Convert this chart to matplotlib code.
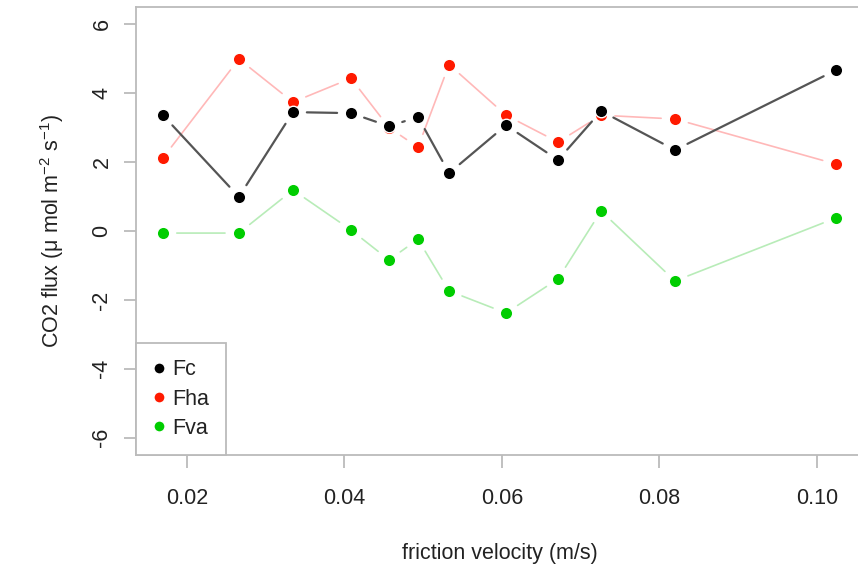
import numpy as np
import matplotlib
matplotlib.use('Agg')
import matplotlib.pyplot as plt
from matplotlib.lines import Line2D

plt.rcParams['font.family'] = ['Liberation Sans', 'DejaVu Sans']
plt.rcParams['mathtext.fontset'] = 'custom'
plt.rcParams['mathtext.rm'] = 'Liberation Sans'
plt.rcParams['mathtext.it'] = 'Liberation Sans:italic'

# dane
ustar = [0.01695, 0.0266, 0.03347, 0.04084, 0.04567, 0.04935,
         0.0533, 0.06053, 0.06714, 0.07261, 0.0820, 0.10246]
Fc = [3.36, 0.99, 3.45, 3.42, 3.04, 3.31, 1.68, 3.07, 2.06, 3.48, 2.35, 4.67]
Fha = [2.12, 4.99, 3.74, 4.43, 3.00, 2.43, 4.83, 3.36, 2.58, 3.36, 3.25, 1.94]
Fva = [-0.06, -0.06, 1.19, 0.03, -0.84, -0.24, -1.74, -2.38, -1.39, 0.58, -1.45, 0.38]

yticks = [-6, -4, -2, 0, 2, 4, 6]
xticks = [0.02, 0.04, 0.06, 0.08, 0.10]
xticklabels = ['0.02', '0.04', '0.06', '0.08', '0.10']

FS = 15.5
AXCOL = '#bbbbbb'

fig = plt.figure(figsize=(8.58, 5.66), dpi=100)
ax = fig.add_axes([136 / 858, 111 / 566, 727 / 858, 448 / 566])

rng = max(ustar) - min(ustar)
ax.set_xlim(min(ustar) - 0.04 * rng, max(ustar) + 0.04 * rng)
ax.set_ylim(-6.5, 6.5)


def draw_series(y, point_col, line_col, lw, z):
    # linie typu "b" z R - przerwy wokol punktow
    for i in range(len(ustar) - 1):
        ax.annotate('', xy=(ustar[i + 1], y[i + 1]), xytext=(ustar[i], y[i]),
                    arrowprops=dict(arrowstyle='-', color=line_col, lw=lw,
                                    shrinkA=10, shrinkB=10),
                    zorder=z)
    ax.plot(ustar, y, linestyle='none', marker='o', markersize=9,
            markerfacecolor=point_col, markeredgecolor='white',
            markeredgewidth=1.0, zorder=z + 1)


draw_series(Fha, '#ff1a00', '#ffb8b8', 1.2, 2)
draw_series(Fva, '#00cd00', '#b8ecb8', 1.2, 4)
draw_series(Fc, '#000000', '#555555', 1.6, 6)

for side in ['left', 'top', 'bottom', 'right']:
    ax.spines[side].set_color(AXCOL)
    ax.spines[side].set_linewidth(1.3)

ax.set_yticks(yticks)
ax.set_yticklabels([str(v) for v in yticks], rotation=90, va='center')
ax.set_xticks(xticks)
ax.set_xticklabels(xticklabels)
ax.tick_params(axis='both', colors=AXCOL, labelcolor='#222222',
               labelsize=FS, length=9, width=1.3)
ax.tick_params(axis='y', pad=8)
ax.tick_params(axis='x', pad=15)

ax.set_xlabel('friction velocity (m/s)', fontsize=FS, color='#222222', labelpad=24)
ax.set_ylabel(r'CO2 flux (μ mol m$^{-2}$ s$^{-1}$)', fontsize=FS,
              color='#222222', labelpad=18)

handles = [Line2D([], [], linestyle='none', marker='o', markersize=8,
                  markerfacecolor=c, markeredgecolor='white')
           for c in ['#000000', '#ff1a00', '#00cd00']]
leg = ax.legend(handles, ['Fc', 'Fha', 'Fva'], loc='lower left',
                bbox_to_anchor=(0, 0), borderaxespad=0, fancybox=False,
                fontsize=FS, handlelength=0.6, handletextpad=0.35,
                labelspacing=0.38, borderpad=0.75, framealpha=1)
leg.get_frame().set_edgecolor(AXCOL)
leg.get_frame().set_linewidth(1.3)
for t in leg.get_texts():
    t.set_color('#222222')

fig.savefig('out.png', dpi=100)
